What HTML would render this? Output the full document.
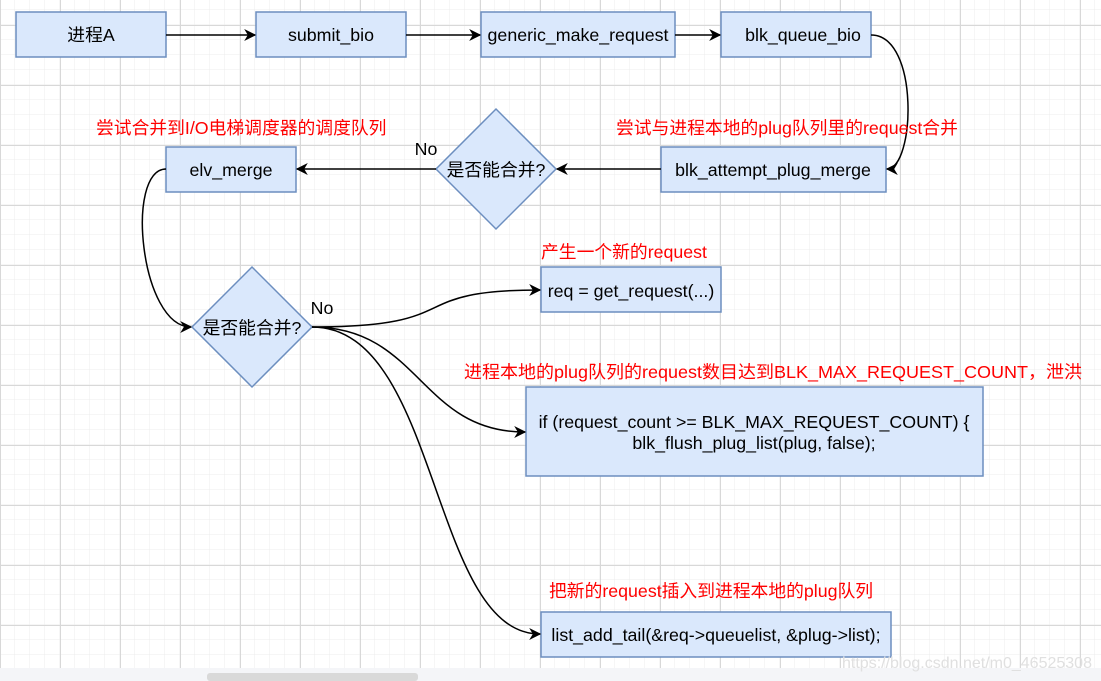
<!DOCTYPE html>
<html><head><meta charset="utf-8"><style>
body{margin:0;width:1101px;height:681px;overflow:hidden;background:#fff;font-family:"Liberation Sans","Noto Sans CJK SC",sans-serif}
</style></head><body>
<svg width="1101" height="681" xmlns="http://www.w3.org/2000/svg" style="position:absolute;left:0;top:0">
<defs>
<pattern id="mi" width="15" height="15" patternUnits="userSpaceOnUse" x="0" y="10"><path d="M15 0V15M0 15H15" fill="none" stroke="#ececec" stroke-width="1"/></pattern>
<pattern id="ma" width="60" height="60" patternUnits="userSpaceOnUse" x="0" y="25"><path d="M0.5 0V60M0 0.5H60" fill="none" stroke="#d8d8d8" stroke-width="1"/></pattern>
<marker id="ar" viewBox="0 0 10 10" refX="9" refY="5" markerWidth="12" markerHeight="12" orient="auto" markerUnits="userSpaceOnUse"><path d="M0 0L10 5L0 10L3 5z" fill="#000"/></marker>
</defs>
<rect width="1101" height="681" fill="url(#mi)"/>
<rect width="1101" height="681" fill="url(#ma)"/>
<rect y="668" width="1101" height="13" fill="#f4f5f8"/>
<rect x="207" y="673" width="211" height="8" rx="3" fill="#d9d9d9"/>
<g fill="#dae8fc" stroke="#6c8ebf" stroke-width="1.5">
<rect x="16" y="12" width="150" height="45"/>
<rect x="256" y="12" width="150" height="45"/>
<rect x="481" y="12" width="194" height="45"/>
<rect x="721" y="12" width="150" height="45"/>
<rect x="661" y="147" width="225" height="45"/>
<rect x="166" y="147" width="130" height="45"/>
<rect x="541" y="267" width="180" height="45"/>
<rect x="526" y="387" width="457" height="89"/>
<rect x="541" y="612" width="350" height="45"/>
<path d="M496 109L556 169L496 229L436 169Z"/>
<path d="M252 267L312 327L252 387L192 327Z"/>
</g>
<g fill="none" stroke="#000" stroke-width="1.5" marker-end="url(#ar)">
<path d="M166 35H255"/>
<path d="M406 35H480"/>
<path d="M675 35H720"/>
<path d="M871 35C920 35 915 169 887 169"/>
<path d="M661 169H557"/>
<path d="M436 169H297"/>
<path d="M166 169C125 169 140 327 191 327"/>
<path d="M312 327C470 327 400 290 540 290"/>
<path d="M312 327C420 327 420 432 525 432"/>
<path d="M312 327C440 327 430 634 540 634"/>
</g>
<g font-size="17.8" fill="#000" text-anchor="middle">
<text x="91" y="41">进程A</text>
<text x="331" y="41">submit_bio</text>
<text x="578" y="41">generic_make_request</text>
<text x="803" y="41">blk_queue_bio</text>
<text x="773" y="176">blk_attempt_plug_merge</text>
<text x="231" y="176">elv_merge</text>
<text x="496" y="176">是否能合并?</text>
<text x="252" y="334">是否能合并?</text>
<text x="631" y="297">req = get_request(...)</text>
<text x="754" y="428">if (request_count &gt;= BLK_MAX_REQUEST_COUNT) {</text>
<text x="754" y="449">blk_flush_plug_list(plug, false);</text>
<text x="716" y="641">list_add_tail(&amp;req-&gt;queuelist, &amp;plug-&gt;list);</text>
<text x="426" y="155">No</text>
<text x="322" y="314">No</text>
</g>
<g font-size="17.8" fill="#ff0000">
<text x="96" y="134">尝试合并到I/O电梯调度器的调度队列</text>
<text x="616" y="134">尝试与进程本地的plug队列里的request合并</text>
<text x="541" y="258">产生一个新的request</text>
<text x="464" y="378" textLength="618" lengthAdjust="spacingAndGlyphs">进程本地的plug队列的request数目达到BLK_MAX_REQUEST_COUNT，泄洪</text>
<text x="549" y="597">把新的request插入到进程本地的plug队列</text>
</g>
<text x="842" y="668" font-size="16" fill="#e0e0e0">https://blog.csdn.net/m0_46525308</text>
</svg>
</body></html>
